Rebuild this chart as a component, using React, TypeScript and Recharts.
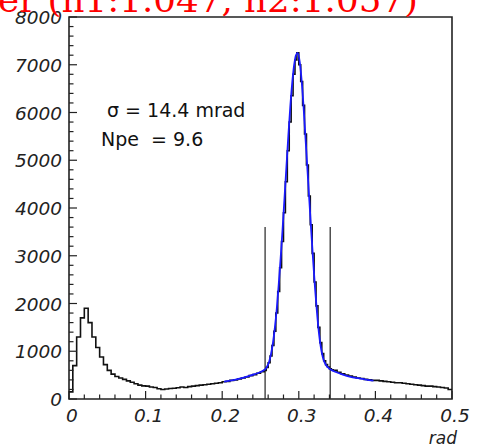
import { LineChart, Line, XAxis, YAxis, ReferenceLine, ReferenceArea } from 'recharts';

// histogram bin left edges (rad); finer binning under the peak
const binEdges = [
  0, 0.005, 0.01, 0.015, 0.02, 0.025, 0.03, 0.035, 0.04, 0.045,
  0.05, 0.055, 0.06, 0.065, 0.07, 0.075, 0.08, 0.085, 0.09, 0.095,
  0.1, 0.105, 0.11, 0.115, 0.12, 0.125, 0.13, 0.135, 0.14, 0.145,
  0.15, 0.155, 0.16, 0.165, 0.17, 0.175, 0.18, 0.185, 0.19, 0.195,
  0.2, 0.205, 0.21, 0.215, 0.22, 0.225, 0.23, 0.235, 0.24, 0.245,
  0.25,
  0.255, 0.2575, 0.26, 0.2625, 0.265, 0.2675, 0.27, 0.2725, 0.275, 0.2775,
  0.28, 0.2825, 0.285, 0.2875, 0.29, 0.2925, 0.295, 0.2975, 0.3, 0.3025,
  0.305, 0.3075, 0.31, 0.3125, 0.315, 0.3175, 0.32, 0.3225, 0.325, 0.3275,
  0.33, 0.3325, 0.335, 0.3375, 0.34, 0.3425,
  0.345, 0.35, 0.355, 0.36, 0.365, 0.37, 0.375, 0.38, 0.385, 0.39, 0.395,
  0.4, 0.405, 0.41, 0.415, 0.42, 0.425, 0.43, 0.435, 0.44, 0.445,
  0.45, 0.455, 0.46, 0.465, 0.47, 0.475, 0.48, 0.485, 0.49, 0.495,
  0.5,
];

const counts = [
  150, 700, 1300, 1700, 1900, 1600, 1300, 1080, 880, 720,
  600, 520, 470, 440, 410, 380, 350, 320, 290, 275,
  270, 250, 240, 215, 200, 210, 220, 225, 235, 250,
  240, 260, 270, 280, 290, 300, 310, 320, 330, 340,
  360, 370, 390, 400, 420, 440, 460, 490, 510, 540,
  570,
  600, 660, 760, 900, 1120, 1420, 1800, 2250, 2750, 3300,
  3900, 4550, 5200, 5800, 6350, 6800, 7100, 7250, 7000, 6650,
  6150, 5550, 4900, 4250, 3650, 3050, 2450, 1950, 1500, 1180,
  950, 800, 720, 670, 630, 610,
  600, 560, 530, 500, 480, 460, 440, 430, 410, 400, 390,
  390, 380, 370, 360, 350, 340, 340, 330, 320, 310,
  300, 290, 280, 270, 270, 260, 250, 240, 230, 200,
  180,
];

// fitted curve (blue), 0.2 - 0.4 rad
const fitX = [
  0.2025, 0.2125, 0.2225, 0.2325, 0.2425, 0.2525, 0.2575, 0.2613, 0.2638, 0.2663,
  0.2688, 0.2713, 0.2738, 0.2763, 0.2788, 0.2813, 0.2838, 0.2863, 0.2888, 0.2913,
  0.2938, 0.2963, 0.2985, 0.3013, 0.3038, 0.3063, 0.3088, 0.3113, 0.3138, 0.3163,
  0.3188, 0.3213, 0.3238, 0.3263, 0.3288, 0.3313, 0.3338, 0.3375, 0.3425, 0.3475,
  0.3575, 0.3675, 0.3775, 0.3875, 0.3975,
];
const fitY = [
  365, 390, 425, 470, 520, 585, 650, 780, 950, 1180,
  1500, 1900, 2400, 2950, 3550, 4200, 4850, 5500, 6100, 6600,
  6980, 7200, 7250, 7050, 6650, 6100, 5450, 4800, 4150, 3500,
  2880, 2300, 1800, 1380, 1080, 880, 760, 670, 610, 570,
  510, 465, 435, 405, 385,
];

const cutLow = 0.256;
const cutHigh = 0.341;
const cutHeight = 3600;

const yMajor = [0, 1000, 2000, 3000, 4000, 5000, 6000, 7000, 8000];
const xMajor = [0, 0.1, 0.2, 0.3, 0.4, 0.5];

const yTicks: number[] = [];
for (let i = 0; i <= 40; i++) yTicks.push(i * 200);
const xTicks: number[] = [];
for (let i = 0; i <= 25; i++) xTicks.push(Math.round(i * 2) / 100);

const histData = binEdges.map((x, i) => ({ x, y: counts[i] }));
const fitData = fitX.map((x, i) => ({ x, y: fitY[i] }));

const W = 477;
const H = 447;
const PLOT_LEFT = 69;
const PLOT_BOTTOM = 399;

const tickFont = { fontFamily: 'DejaVu Sans', fontStyle: 'italic', fontSize: 18.5, fill: '#222' };

const YTick = (props: any) => {
  const { y, payload } = props;
  const v = payload.value;
  const major = yMajor.includes(v);
  return (
    <g>
      <line x1={PLOT_LEFT} x2={PLOT_LEFT + (major ? 8 : 4.5)} y1={y} y2={y} stroke="#222" strokeWidth={1.2} />
      {major && (
        <text x={62} y={y + 7} textAnchor="end" {...tickFont}>
          {v}
        </text>
      )}
    </g>
  );
};

const XTick = (props: any) => {
  const { x, payload } = props;
  const v = payload.value;
  const major = xMajor.some(m => Math.abs(m - v) < 1e-6);
  return (
    <g>
      <line x1={x} x2={x} y1={PLOT_BOTTOM} y2={PLOT_BOTTOM - (major ? 8 : 4.5)} stroke="#222" strokeWidth={1.2} />
      {major && (
        <text x={x + 3} y={422} textAnchor="middle" {...tickFont}>
          {v}
        </text>
      )}
    </g>
  );
};

const App = () => {
  return (
    <div style={{ position: 'absolute', left: 0, top: 0, width: W, height: H, background: '#fff' }}>
      <LineChart width={W} height={H} margin={{ top: 17, right: 25, left: 0, bottom: 0 }}>
        <XAxis
          dataKey="x"
          type="number"
          domain={[0, 0.5]}
          ticks={xTicks}
          interval={0}
          height={48}
          axisLine={false}
          tickLine={false}
          tick={<XTick />}
          allowDataOverflow
        />
        <YAxis
          type="number"
          domain={[0, 8000]}
          ticks={yTicks}
          interval={0}
          width={69}
          axisLine={false}
          tickLine={false}
          tick={<YTick />}
          allowDataOverflow
        />
        <ReferenceArea x1={0} x2={0.5} y1={0} y2={8000} fill="none" stroke="#222" strokeWidth={1.6} />
        <ReferenceLine segment={[{ x: cutLow, y: 0 }, { x: cutLow, y: cutHeight }]} stroke="#333" strokeWidth={1.3} />
        <ReferenceLine segment={[{ x: cutHigh, y: 0 }, { x: cutHigh, y: cutHeight }]} stroke="#333" strokeWidth={1.3} />
        <Line data={histData} dataKey="y" type="stepAfter" stroke="#111" strokeWidth={1.6} dot={false} isAnimationActive={false} />
        <Line data={fitData} dataKey="y" type="monotone" stroke="#1a1aff" strokeWidth={1.8} dot={false} isAnimationActive={false} />
      </LineChart>
      <svg width={W} height={H} style={{ position: 'absolute', left: 0, top: 0, pointerEvents: 'none' }}>
        <text x={-2} y={12} fill="#ff0000" fontFamily="DejaVu Serif" fontSize={34} textLength={420} lengthAdjust="spacingAndGlyphs">
          er (n1:1.047, n2:1.057)
        </text>
        <text x={107} y={117} fontFamily="DejaVu Sans" fontSize={19} fill="#111">
          σ = 14.4 mrad
        </text>
        <text x={101} y={146} fontFamily="DejaVu Sans" fontSize={19} fill="#111" style={{ whiteSpace: 'pre' }}>
          {'Npe  = 9.6'}
        </text>
        <text x={457} y={444} textAnchor="end" {...tickFont} fontSize={17}>
          rad
        </text>
      </svg>
    </div>
  );
};

export default App;
